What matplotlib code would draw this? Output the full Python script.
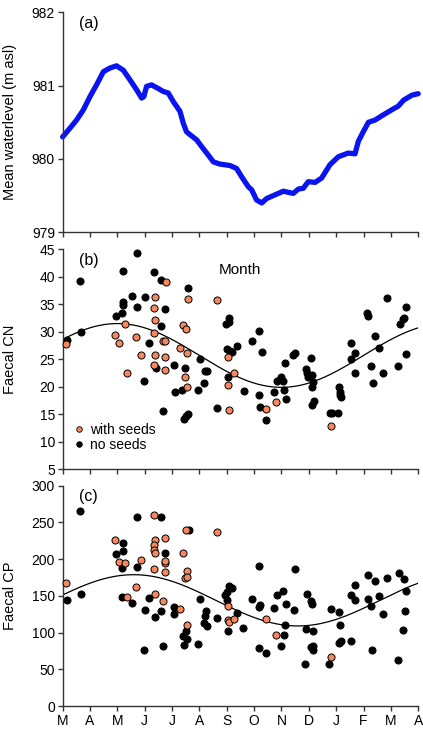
import numpy as np
import matplotlib
matplotlib.use("Agg")
import matplotlib.pyplot as plt
from matplotlib.lines import Line2D

plt.rcParams['font.family'] = ['Liberation Sans', 'DejaVu Sans']
plt.rcParams['font.size'] = 10

# months since start of March (0 = M ... 13 = A)
month_labels = ["M", "A", "M", "J", "J", "A", "S", "O", "N", "D", "J", "F", "M", "A"]

# (a) mean water level
wl_month = [0.0, 0.27, 0.51, 0.76, 1.0, 1.24, 1.49, 1.73, 1.97, 2.22, 2.46, 2.71, 2.89, 2.97,
            3.07, 3.25, 3.50, 3.68, 3.86, 4.05, 4.29, 4.41, 4.53, 4.66, 4.90, 5.08, 5.33,
            5.51, 5.75, 6.12, 6.36, 6.54, 6.79, 6.91, 7.09, 7.28, 7.46, 7.70, 8.07, 8.43,
            8.62, 8.80, 8.98, 9.23, 9.47, 9.77, 10.08, 10.44, 10.69, 10.81, 10.99, 11.18,
            11.42, 11.72, 12.03, 12.27, 12.46, 12.77, 13.0]
wl_level = [980.30, 980.42, 980.53, 980.67, 980.85, 981.01, 981.19, 981.24, 981.27, 981.21,
            981.08, 980.94, 980.83, 980.85, 980.99, 981.01, 980.96, 980.92, 980.90, 980.78,
            980.65, 980.49, 980.37, 980.33, 980.26, 980.17, 980.05, 979.96, 979.93, 979.91,
            979.87, 979.76, 979.62, 979.58, 979.44, 979.40, 979.46, 979.50, 979.56, 979.53,
            979.59, 979.60, 979.69, 979.68, 979.74, 979.92, 980.03, 980.08, 980.07, 980.24,
            980.37, 980.50, 980.53, 980.60, 980.67, 980.72, 980.80, 980.87, 980.89]

# (b) faecal C:N
cn_seed_month = [0.11, 1.91, 2.07, 2.28, 2.34, 2.67, 2.86, 3.38, 3.35, 3.39, 3.35, 3.39, 3.35,
                 3.66, 3.75, 3.73, 3.75, 3.77, 4.29, 4.40, 4.50, 4.55, 4.49, 4.56, 4.58, 5.66,
                 6.03, 6.03, 6.09, 6.28, 7.43, 7.80, 9.81]
cn_seed_val = [27.7, 29.5, 27.9, 31.4, 22.5, 29.0, 25.8, 36.4, 34.3, 32.2, 29.7, 25.8, 24.0,
               28.4, 28.4, 25.4, 23.1, 39.1, 27.1, 31.2, 30.5, 26.2, 21.8, 20.0, 35.9, 35.8,
               25.5, 20.3, 15.7, 22.6, 16.0, 17.2, 12.9]
cn_noseed_month = [0.15, 0.63, 0.66, 1.95, 2.17, 2.19, 2.22, 2.22, 2.54, 2.71, 2.71, 3.00, 2.97,
                   3.17, 3.35, 3.40, 3.60, 3.60, 3.66, 3.75, 4.07, 4.12, 4.35, 4.49, 4.42, 4.51,
                   4.58, 4.57, 4.94, 5.02, 5.17, 5.20, 5.27, 5.66, 5.96, 6.00, 6.06, 6.08, 6.09,
                   6.12, 6.18, 6.36, 6.62, 6.92, 7.17, 7.19, 7.22, 7.28, 7.43, 7.72, 7.84, 7.97,
                   8.04, 8.10, 8.13, 8.17, 8.43, 8.49, 8.88, 8.92, 8.98, 9.07, 9.11, 9.13, 9.17,
                   9.10, 9.19, 9.79, 9.86, 10.05, 10.09, 10.14, 10.15, 10.16, 10.53, 10.53,
                   10.69, 10.70, 11.14, 11.16, 11.29, 11.33, 11.42, 11.57, 11.72, 11.86, 12.27,
                   12.33, 12.43, 12.48, 12.54, 12.55]
cn_noseed_val = [28.6, 39.2, 30.0, 32.9, 33.5, 34.9, 35.5, 41.1, 36.6, 44.3, 34.6, 36.4, 21.1,
                 28.0, 40.9, 23.5, 39.5, 31.1, 15.6, 34.2, 23.9, 19.1, 19.5, 23.4, 14.2, 14.6,
                 15.0, 38.0, 19.5, 25.1, 20.6, 22.8, 22.8, 16.2, 31.5, 26.8, 21.7, 31.8, 32.6,
                 26.6, 26.3, 27.4, 19.3, 28.3, 18.5, 30.2, 16.4, 26.4, 13.9, 19.1, 21.1, 21.8,
                 21.0, 19.4, 24.3, 17.7, 25.8, 26.1, 23.2, 22.5, 21.8, 25.2, 22.2, 20.0, 20.9,
                 16.6, 17.4, 15.3, 15.3, 15.3, 20.0, 19.1, 18.5, 18.1, 28.0, 25.0, 26.1, 22.5,
                 33.5, 32.9, 23.7, 20.6, 29.3, 27.1, 22.5, 36.1, 23.8, 31.4, 32.3, 32.6, 34.5,
                 26.0]

# (c) faecal C:P
cp_seed_month = [0.11, 1.91, 2.07, 2.28, 2.34, 2.67, 2.86, 3.35, 3.39, 3.35, 3.35, 3.39, 3.35,
                 3.39, 3.66, 3.75, 3.73, 3.75, 3.75, 4.29, 4.40, 4.50, 4.55, 4.49, 4.56, 4.56,
                 5.66, 6.03, 6.03, 6.09, 6.28, 7.43, 7.80, 9.81]
cp_seed_val = [168.0, 225.6, 196.5, 195.2, 148.0, 161.6, 198.4, 260.1, 226.1, 218.8, 212.4,
               207.9, 186.6, 152.5, 143.0, 228.3, 194.3, 197.5, 182.9, 131.6, 208.8, 239.7,
               183.8, 174.8, 176.1, 110.3, 237.4, 136.6, 117.1, 113.9, 118.5, 118.5, 96.7, 67.2]
cp_noseed_month = [0.15, 0.63, 0.66, 1.95, 2.19, 2.22, 2.17, 2.17, 2.54, 2.71, 2.71, 2.97, 3.01,
                   3.17, 3.39, 3.60, 3.60, 3.66, 3.75, 4.07, 4.07, 4.51, 4.41, 4.56, 4.44, 4.62,
                   4.94, 5.04, 5.24, 5.20, 5.17, 5.27, 5.66, 5.94, 6.02, 6.00, 6.09, 6.18, 6.06,
                   6.36, 6.61, 6.91, 7.17, 7.22, 7.18, 7.19, 7.43, 7.73, 7.82, 7.97, 8.07, 8.09,
                   8.13, 8.17, 8.46, 8.49, 8.86, 8.90, 8.95, 9.08, 9.13, 9.14, 9.08, 9.17, 9.17,
                   9.75, 9.81, 10.10, 10.14, 10.14, 10.18, 10.10, 10.53, 10.53, 10.69, 10.69,
                   11.15, 11.15, 11.29, 11.31, 11.42, 11.55, 11.71, 11.85, 12.27, 12.31, 12.43,
                   12.48, 12.53, 12.54]
cp_noseed_val = [144.3, 265.5, 152.5, 206.5, 221.5, 211.1, 187.5, 148.4, 140.3, 257.8, 189.3,
                 75.8, 131.2, 146.6, 120.7, 256.9, 129.8, 82.2, 207.9, 134.4, 124.8, 102.6, 95.3,
                 91.2, 83.5, 239.7, 84.0, 145.3, 129.4, 122.6, 113.5, 108.9, 120.3, 151.2, 144.3,
                 155.7, 163.4, 160.2, 102.6, 127.1, 106.7, 145.7, 135.3, 137.5, 190.6, 78.5, 72.6,
                 133.5, 151.2, 81.3, 156.6, 96.7, 109.8, 138.9, 131.2, 186.1, 57.2, 104.9, 152.1,
                 143.4, 138.9, 102.1, 80.8, 82.2, 76.3, 57.2, 132.1, 128.5, 109.9, 87.6, 89.0,
                 86.2, 88.1, 150.7, 144.3, 164.8, 178.8, 146.2, 136.6, 76.7, 170.7, 149.3, 124.8,
                 173.9, 63.1, 181.6, 103.9, 172.9, 129.8, 156.6]

# seasonal (12-month) harmonic fits: mean, amplitude, month of peak
cn_fit = (25.7, 5.8, 2.0)
cp_fit = (143.9, 34.9, 2.6)

SEED_COLOR = "#F7875C"
SPINE_COLOR = "#333333"


def seasonal(x, fit):
    mean, amp, peak = fit
    return mean + amp * np.cos(2 * np.pi * (x - peak) / 12.0)


def style_axis(ax, yticks, ylim, ylabel, panel, show_xlabels):
    ax.set_xlim(0, 13)
    ax.set_ylim(*ylim)
    ax.set_yticks(yticks)
    ax.set_xticks(range(14))
    if show_xlabels:
        ax.set_xticklabels(month_labels)
    else:
        ax.set_xticklabels([])
    for s in ("top", "right"):
        ax.spines[s].set_visible(False)
    for s in ("left", "bottom"):
        ax.spines[s].set_color(SPINE_COLOR)
        ax.spines[s].set_linewidth(1.0)
    ax.tick_params(direction="out", length=3.5, width=1.0, color=SPINE_COLOR,
                   labelsize=10, pad=2)
    ax.set_ylabel(ylabel, fontsize=10.5)
    ax.yaxis.set_label_coords(-0.128, 0.5)
    ax.text(0.045, 0.985, panel, transform=ax.transAxes, fontsize=11.5,
            ha="left", va="top")


fig = plt.figure(figsize=(4.23, 7.32), dpi=100)
left, width = 0.148, 0.8407
ax_a = fig.add_axes([left, 0.6827, width, 0.3005])
ax_b = fig.add_axes([left, 0.3589, width, 0.3005])
ax_c = fig.add_axes([left, 0.0355, width, 0.3010])

# (a)
ax_a.plot(wl_month, wl_level, color="#0A14F0", lw=3.8, solid_capstyle="round",
          solid_joinstyle="round", clip_on=False)
style_axis(ax_a, [979, 980, 981, 982], (979, 982), "Mean waterlevel (m asl)", "(a)", False)

xs = np.linspace(0, 13, 300)
mk = dict(s=26, linewidths=0.7, edgecolors="black", zorder=3, clip_on=False)

# (b)
ax_b.plot(xs, seasonal(xs, cn_fit), color="black", lw=0.9, zorder=2)
ax_b.scatter(cn_noseed_month, cn_noseed_val, color="black", **mk)
ax_b.scatter(cn_seed_month, cn_seed_val, color=SEED_COLOR, **mk)
style_axis(ax_b, range(5, 46, 5), (5, 45), "Faecal CN", "(b)", False)
ax_b.text(0.5, 0.905, "Month", transform=ax_b.transAxes, fontsize=11, ha="center", va="center")
handles = [Line2D([], [], ls="", marker="o", ms=4.0, mfc=SEED_COLOR, mec="black", mew=0.6),
           Line2D([], [], ls="", marker="o", ms=4.0, mfc="black", mec="black", mew=0.6)]
ax_b.legend(handles, ["with seeds", "no seeds"], loc="lower left",
            bbox_to_anchor=(0.0, 0.035), frameon=False, fontsize=10,
            handletextpad=0.25, labelspacing=0.05, handlelength=1.0, borderaxespad=0.3)

# (c)
ax_c.plot(xs, seasonal(xs, cp_fit), color="black", lw=0.9, zorder=2)
ax_c.scatter(cp_noseed_month, cp_noseed_val, color="black", **mk)
ax_c.scatter(cp_seed_month, cp_seed_val, color=SEED_COLOR, **mk)
style_axis(ax_c, range(0, 301, 50), (0, 300), "Faecal CP", "(c)", True)

fig.savefig("out.png", dpi=100)
